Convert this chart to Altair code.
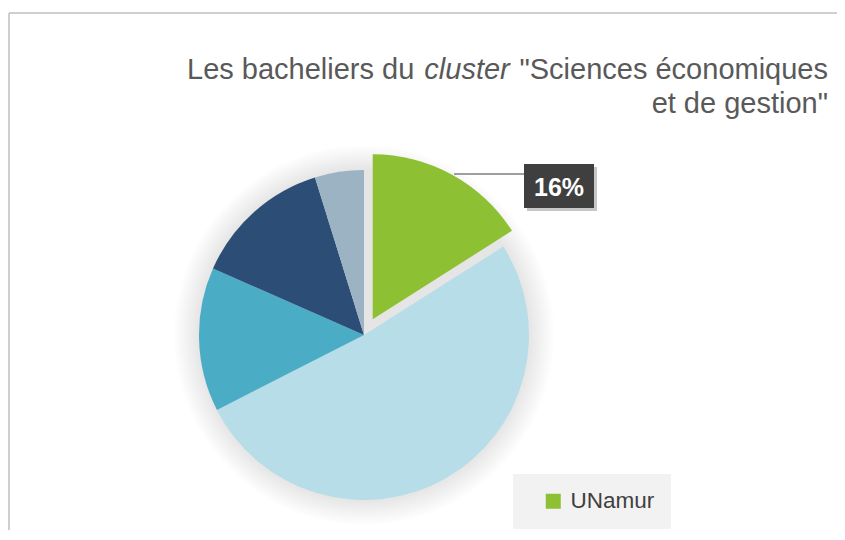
import math
import altair as alt
import pandas as pd

# ---- data ----
categories = ["UNamur", "Autre 1", "Autre 2", "Autre 3", "Autre 4"]
values = [16, 51.5, 14.1, 13.6, 4.8]
palette = ["#8DC133", "#B7DDE8", "#4BACC6", "#2C4D75", "#9BB3C3"]

title_part1 = "Les bacheliers du "
title_part2 = "cluster"
title_part3 = '"Sciences économiques'
title_line2 = 'et de gestion"'

df = pd.DataFrame({"cat": categories, "value": values, "order": list(range(len(values)))})

FONT = "Liberation Sans"
OFF = 8
CX, CY, R = 364 - OFF, 335 - OFF, 165
W, H = 829, 522

blank = alt.Data(values=[{"k": 1}])

base = (
    alt.Chart(df)
    .transform_joinaggregate(total="sum(value)")
    .transform_window(cum="sum(value)", sort=[alt.SortField("order")], frame=[None, 0])
    .transform_calculate(
        t0="(datum.cum - datum.value) / datum.total * 2 * PI",
        t1="datum.cum / datum.total * 2 * PI",
        mid="(datum.t0 + datum.t1) / 2",
        pct="datum.value / datum.total",
        explode="datum.cat == 'UNamur' ? 18 : 0",
        ex=f"{CX} + datum.explode * sin(datum.mid)",
        ey=f"{CY} - datum.explode * cos(datum.mid)",
    )
)

# soft shadow (halo) behind the pie
shadow_layers = [
    alt.Chart(blank)
    .mark_arc(radius=r, theta=0, theta2=2 * math.pi, color="black", opacity=0.008)
    .encode(x=alt.value(CX), y=alt.value(CY))
    for r in range(166, 192, 2)
]

pie = base.mark_arc(radius=R).encode(
    x=alt.X("ex:Q", scale=None, axis=None),
    y=alt.Y("ey:Q", scale=None, axis=None),
    theta=alt.Theta("t0:Q", scale=None),
    theta2="t1:Q",
    color=alt.Color(
        "cat:N",
        scale=alt.Scale(domain=categories, range=palette),
        legend=alt.Legend(
            values=["UNamur"],
            title=None,
            orient="none",
            legendX=513 - OFF,
            legendY=474 - OFF,
            fillColor="#F2F2F2",
            padding=16,
            symbolOffset=13,
            symbolType="square",
            symbolSize=225,
            symbolStrokeWidth=0,
            symbolOpacity=1,
            labelOffset=6,
            labelFont=FONT,
            labelFontSize=22.5,
            labelColor="#404040",
        ),
    ),
)

# leader line + data label
leader = alt.Chart(blank).mark_rule(color="#7F7F7F", strokeWidth=1.5).encode(
    x=alt.value(454 - OFF), x2=alt.value(524 - OFF), y=alt.value(174 - OFF)
)
box_shadow = alt.Chart(blank).mark_rect(color="black", opacity=0.22).encode(
    x=alt.value(527 - OFF), x2=alt.value(597 - OFF), y=alt.value(167 - OFF), y2=alt.value(211 - OFF)
)
box = alt.Chart(blank).mark_rect(color="#3F3F3F").encode(
    x=alt.value(524 - OFF), x2=alt.value(594 - OFF), y=alt.value(164 - OFF), y2=alt.value(208 - OFF)
)
label = (
    base.transform_filter("datum.cat == 'UNamur'")
    .mark_text(font=FONT, fontSize=25, fontWeight="bold", color="white", align="center", baseline="alphabetic")
    .encode(
        x=alt.value(559 - OFF),
        y=alt.value(196 - OFF),
        text=alt.Text("pct:Q", format=".0%"),
    )
)

# title (mixed italic)
TS = 29
TCOL = "#595959"
x_start = 187 - OFF
w1 = 8.115 * TS
t1 = alt.Chart(blank).mark_text(text=title_part1, font=FONT, fontSize=TS, color=TCOL, align="left", baseline="alphabetic").encode(
    x=alt.value(x_start), y=alt.value(79 - OFF))
t2 = alt.Chart(blank).mark_text(text=title_part2, font=FONT, fontSize=TS, fontStyle="italic", color=TCOL, align="left", baseline="alphabetic").encode(
    x=alt.value(x_start + w1 + 2), y=alt.value(79 - OFF))
t3 = alt.Chart(blank).mark_text(text=title_part3, font=FONT, fontSize=TS, color=TCOL, align="right", baseline="alphabetic").encode(
    x=alt.value(828 - OFF), y=alt.value(79 - OFF))
t4 = alt.Chart(blank).mark_text(text=title_line2, font=FONT, fontSize=TS, color=TCOL, align="right", baseline="alphabetic").encode(
    x=alt.value(828 - OFF), y=alt.value(113 - OFF))

# chart border (top and left edges visible)
border_top = alt.Chart(blank).mark_rule(color="#BFBFBF", strokeWidth=1.5).encode(
    x=alt.value(9 - OFF), x2=alt.value(W), y=alt.value(13 - OFF))
border_left = alt.Chart(blank).mark_rule(color="#BFBFBF", strokeWidth=1.5).encode(
    x=alt.value(9 - OFF), y=alt.value(13 - OFF), y2=alt.value(H))

chart = (
    alt.layer(border_top, border_left, *shadow_layers, pie, leader, box_shadow, box, label, t1, t2, t3, t4)
    .properties(width=W, height=H, autosize=alt.AutoSizeParams(type="none"), padding=0)
    .configure_view(stroke=None)
)

chart.save("out.html", embed_options={"renderer": "svg", "actions": False})
